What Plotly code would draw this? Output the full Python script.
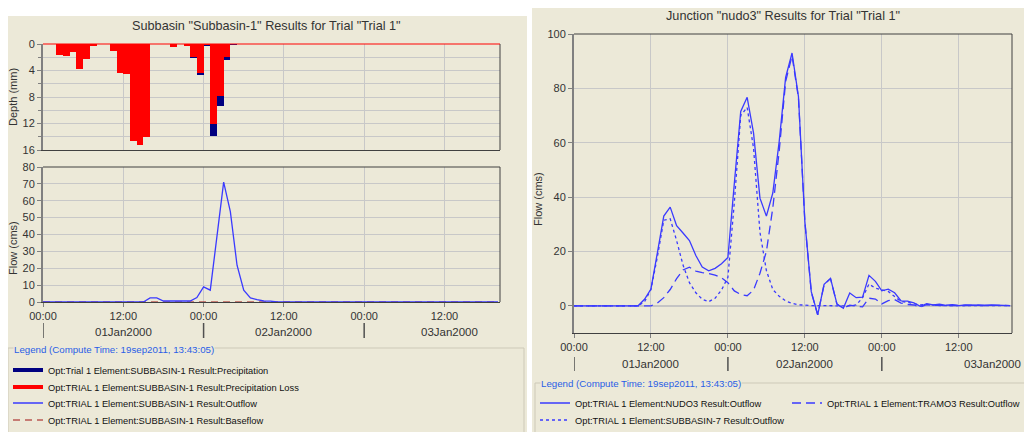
import plotly.graph_objects as go
import pandas as pd

# The page body has an 8px default margin: the figure is laid out in window pixels
# shifted by that offset.
OFF = 8
W, H = 1032 - OFF, 432 - OFF
FONT = "Liberation Sans, Arial, sans-serif"
BEIGE = "#ECE9D8"
GRID = "#c8c8c8"
TXT = "#333333"


def px(x):
    return (x - OFF) / W


def py(y):
    return 1 - (y - OFF) / H


# ---------------- data ----------------
START = pd.Timestamp("2000-01-01 00:00")
hours = list(range(69))
times = [START + pd.Timedelta(hours=h) for h in hours]
x_range = [START, START + pd.Timedelta(hours=68.3)]

# Subbasin-1 hyetograph (hourly intervals starting at these hours)
bar_hours = list(range(2, 29))
precipitation = [1.7, 1.8, 1.2, 3.7, 2.2, 0.3, 0.0, 0.0, 1.0, 4.4, 4.5, 14.7, 15.2, 14.1,
                 0.0, 0.0, 0.0, 0.4, 0.0, 0.3, 2.05, 4.65, 0.25, 13.9, 9.3, 2.35, 0.15]
precip_loss = [1.7, 1.8, 1.2, 3.7, 2.2, 0.3, 0.0, 0.0, 1.0, 4.4, 4.5, 14.7, 15.2, 14.0,
               0.0, 0.0, 0.0, 0.4, 0.0, 0.3, 2.0, 4.4, 0.15, 12.1, 7.8, 1.9, 0.0]

# Subbasin-1 outflow / baseflow (hourly, h0..h68)
sub1_outflow = [
    0, 0, 0, 0, 0, 0, 0, 0, 0, 0, 0, 0,
    0, 0, 0, 0, 2.4, 2.4, 0.6, 0.5, 0.5, 0.5, 0.6, 2.6,
    9.0, 7.0, 40.7, 71.0, 53.6, 21.8, 7.0, 2.4, 1.4, 0.6, 0.5, 0.0,
    0, 0, 0, 0, 0, 0, 0, 0, 0, 0, 0, 0,
    0, 0, 0, 0, 0, 0, 0, 0, 0, 0, 0, 0,
    0, 0, 0, 0, 0, 0, 0, 0, 0,
]
sub1_baseflow = [
    0, 0, 0, 0, 0, 0, 0, 0, 0, 0, 0, 0,
    0, 0, 0, 0, 0, 0, 0, 0, 0, 0, 0, 0,
    0, 0, 0, 0, 0, 0, 0, 0, 0, 0, 0, 0,
    0, 0, 0, 0, 0, 0, 0, 0, 0, 0, 0, 0,
    0, 0, 0, 0, 0, 0, 0, 0, 0, 0, 0, 0,
    0, 0, 0, 0, 0, 0, 0, 0, 0,
]

# Junction nudo3 (hourly, h0..h68)
nudo3_outflow = [
    0, 0, 0, 0, 0, 0, 0, 0, 0, 0, 0, 2.4,
    6.2, 19.5, 33.0, 36.3, 29.5, 26.8, 24.0, 18.5, 14.3, 12.9, 13.8, 15.5,
    17.8, 45.0, 71.5, 76.7, 63.5, 39.6, 33.0, 41.5, 60.5, 84.0, 93.0, 77.0,
    31.0, 5.2, -3.3, 7.9, 10.1, 0.7, -0.9, 4.7, 3.0, 3.2, 11.2, 9.0,
    5.5, 6.1, 4.8, 1.8, 1.7, 1.1, -0.2, 0.8, 0.3, 0.6, 0.2, 0.4,
    0.1, 0.3, 0.2, 0.3, 0.2, 0.3, 0.2, 0.3, 0.1,
]
tramo3_outflow = [
    0, 0, 0, 0, 0, 0, 0, 0, 0, 0, 0, 0,
    0, 1.0, 3.0, 6.0, 10.0, 13.2, 14.2, 12.8, 12.2, 11.9, 11.3, 10.3,
    8.5, 5.5, 4.2, 3.7, 5.8, 12.0, 20.0, 36.0, 57.0, 82.5, 92.0, 76.5,
    31.0, 5.0, -3.3, 7.8, 10.0, 0.6, -0.9, 0.2, 0.0, -0.4, 2.8, 2.5,
    0.7, 1.9, 2.3, 1.0, 0.5, 0.3, -0.4, 0.4, 0.1, 0.3, 0.0, 0.2,
    0.1, 0.2, 0.1, 0.2, 0.1, 0.2, 0.1, 0.2, 0.1,
]
sub7_outflow = [
    0, 0, 0, 0, 0, 0, 0, 0, 0, 0, 0, 1.5,
    6.0, 18.0, 31.5, 32.0, 24.0, 15.0, 8.5, 4.8, 2.4, 1.5, 2.8, 5.8,
    10.5, 38.0, 70.0, 73.0, 58.0, 27.0, 13.0, 6.0, 3.5, 1.8, 0.9, 0.4,
    0.2, 0.1, 0.1, 0.0, 0.0, 0.0, 0.0, 0.0, 0.3, 3.0, 8.0, 6.5,
    5.9, 5.3, 3.4, 1.6, 1.3, 0.8, 0.3, 0.5, 0.2, 0.1, 0.1, 0.1,
    0.1, 0.1, 0.1, 0.1, 0.1, 0.1, 0.1, 0.1, 0.1,
]

day_labels = ["01Jan2000", "02Jan2000", "03Jan2000"]
day_starts_h = [0, 24, 48]
left_label_h = [12.0, 36.0, 60.8]
right_label_h = [12.0, 36.0, 65.3]

left_title = 'Subbasin "Subbasin-1" Results for Trial "Trial 1"'
right_title = 'Junction "nudo3" Results for Trial "Trial 1"'
legend_title = "Legend (Compute Time: 19sep2011, 13:43:05)"

names_left = [
    "Opt:Trial 1 Element:SUBBASIN-1 Result:Precipitation",
    "Opt:TRIAL 1 Element:SUBBASIN-1 Result:Precipitation Loss",
    "Opt:TRIAL 1 Element:SUBBASIN-1 Result:Outflow",
    "Opt:TRIAL 1 Element:SUBBASIN-1 Result:Baseflow",
]
names_right = [
    "Opt:TRIAL 1 Element:NUDO3 Result:Outflow",
    "Opt:TRIAL 1 Element:TRAMO3 Result:Outflow",
    "Opt:TRIAL 1 Element:SUBBASIN-7 Result:Outflow",
]

# ---------------- figure ----------------
bar_x = [START + pd.Timedelta(hours=h) for h in bar_hours]
HOUR_MS = 3600 * 1000
BLUE = "#3a3aff"

fig = go.Figure()

fig.add_trace(go.Bar(x=bar_x, y=precipitation, width=HOUR_MS, offset=0,
                     marker=dict(color="#000080", line=dict(width=0)),
                     xaxis="x", yaxis="y", showlegend=False, name=names_left[0]))
fig.add_trace(go.Bar(x=bar_x, y=precip_loss, width=HOUR_MS, offset=0,
                     marker=dict(color="#ff0000", line=dict(width=0)),
                     xaxis="x", yaxis="y", showlegend=False, name=names_left[1]))
# legend swatches for the bar series (thick lines as in the original legend)
fig.add_trace(go.Scatter(x=[None], y=[None], mode="lines", name=names_left[0],
                         line=dict(color="#000080", width=4), xaxis="x", yaxis="y",
                         legend="legend"))
fig.add_trace(go.Scatter(x=[None], y=[None], mode="lines", name=names_left[1],
                         line=dict(color="#ff0000", width=4), xaxis="x", yaxis="y",
                         legend="legend2"))

fig.add_trace(go.Scatter(x=times, y=sub1_baseflow, mode="lines", name=names_left[3],
                         line=dict(color="#a01010", width=1, dash="7px,5px"),
                         xaxis="x2", yaxis="y2", legend="legend4"))
fig.add_trace(go.Scatter(x=times, y=sub1_outflow, mode="lines", name=names_left[2],
                         line=dict(color=BLUE, width=1.3),
                         xaxis="x2", yaxis="y2", legend="legend3"))

fig.add_trace(go.Scatter(x=times, y=sub7_outflow, mode="lines", name=names_right[2],
                         line=dict(color=BLUE, width=1.3, dash="3px,3px"),
                         xaxis="x3", yaxis="y3", legend="legend6"))
fig.add_trace(go.Scatter(x=times, y=tramo3_outflow, mode="lines", name=names_right[1],
                         line=dict(color=BLUE, width=1.3, dash="9px,5px"),
                         xaxis="x3", yaxis="y3", legend="legend7"))
fig.add_trace(go.Scatter(x=times, y=nudo3_outflow, mode="lines", name=names_right[0],
                         line=dict(color=BLUE, width=1.3),
                         xaxis="x3", yaxis="y3", legend="legend5"))

tick_font = dict(family=FONT, size=11, color=TXT)


def xaxis(domain, anchor, labels):
    return dict(domain=domain, anchor=anchor, type="date", range=x_range,
                tick0=START, dtick=12 * HOUR_MS, tickformat="%H:%M",
                showticklabels=labels, ticks="outside" if labels else "",
                ticklen=4, tickcolor="#808080", tickfont=tick_font,
                showgrid=True, gridcolor=GRID, gridwidth=1,
                showline=True, linecolor="#404040", linewidth=1, mirror=False,
                zeroline=False, fixedrange=True)


def yaxis(domain, anchor, rng, dtick, minor=None, zeroline=False, zcolor=GRID, zwidth=1):
    d = dict(domain=domain, anchor=anchor, range=rng, dtick=dtick,
             ticks="outside", ticklen=4, tickcolor="#808080", tickfont=tick_font,
             showgrid=True, gridcolor=GRID, gridwidth=1,
             showline=True, linecolor="#808080", linewidth=2, mirror=False,
             zeroline=zeroline, zerolinecolor=zcolor, zerolinewidth=zwidth,
             fixedrange=True)
    if minor:
        d["minor"] = minor
    return d


layout = dict(
    width=W, height=H, margin=dict(l=0, r=0, t=0, b=0, autoexpand=False),
    paper_bgcolor="white", plot_bgcolor="white",
    barmode="overlay", bargap=0,
    font=dict(family=FONT, size=11, color=TXT),
    xaxis=xaxis([px(43), px(500)], "y", False),
    yaxis=yaxis([py(150), py(44)], "x", [16, 0], 4,
                minor=dict(dtick=2, showgrid=True, gridcolor=GRID, ticks="outside",
                           ticklen=3, tickcolor="#808080")),
    xaxis2=xaxis([px(43), px(500)], "y2", True),
    yaxis2=yaxis([py(302), py(167)], "x2", [0, 80], 10),
    xaxis3=xaxis([px(574), px(1012)], "y3", True),
    yaxis3=yaxis([py(333), py(34)], "x3", [-10, 100], 20,
                 zeroline=True, zcolor="#c4c4c4", zwidth=2),
)

# legends, one per entry for exact placement
leg_common = dict(xanchor="left", yanchor="middle", bgcolor="rgba(0,0,0,0)",
                  borderwidth=0, itemwidth=30, orientation="v",
                  font=dict(family=FONT, size=9.3, color="#111111"),
                  itemclick=False, itemdoubleclick=False)
legend_pos = {
    "legend": (8, 370), "legend2": (8, 387), "legend3": (8, 403), "legend4": (8, 420),
    "legend5": (535, 403), "legend7": (787, 403), "legend6": (535, 420),
}
for key, (lx, ly) in legend_pos.items():
    layout[key] = dict(leg_common, x=px(lx), y=py(ly))

shapes = [
    # panel backgrounds
    dict(type="rect", xref="paper", yref="paper", x0=0, x1=px(527), y0=0, y1=py(16),
         fillcolor=BEIGE, line=dict(width=0), layer="below"),
    dict(type="rect", xref="paper", yref="paper", x0=px(532), x1=1, y0=0, y1=1,
         fillcolor=BEIGE, line=dict(width=0), layer="below"),
    # legend boxes
    dict(type="rect", xref="paper", yref="paper", x0=px(8), x1=px(524), y0=py(436), y1=py(348),
         fillcolor="rgba(0,0,0,0)", line=dict(color="#cdc9b8", width=1), layer="below"),
    dict(type="rect", xref="paper", yref="paper", x0=px(535), x1=px(1036), y0=py(436), y1=py(383),
         fillcolor="rgba(0,0,0,0)", line=dict(color="#cdc9b8", width=1), layer="below"),
]
# plot frames (right, top borders)
for xa, ya, top_color in [("x", "y", "#ff0000"), ("x2", "y2", "#404040"), ("x3", "y3", "#404040")]:
    shapes.append(dict(type="line", xref=xa + " domain", yref=ya + " domain",
                       x0=1, x1=1, y0=0, y1=1, line=dict(color="#404040", width=1), layer="above"))
    shapes.append(dict(type="line", xref=xa + " domain", yref=ya + " domain",
                       x0=0, x1=1, y0=1, y1=1, line=dict(color=top_color, width=1), layer="above"))
# date separators below the time axis
for h in day_starts_h:
    t = START + pd.Timedelta(hours=h)
    shapes.append(dict(type="line", xref="x2", yref="paper", x0=t, x1=t,
                       y0=py(323), y1=py(338), line=dict(color="#505050", width=1.5)))
    shapes.append(dict(type="line", xref="x3", yref="paper", x0=t, x1=t,
                       y0=py(357), y1=py(371), line=dict(color="#505050", width=1.5)))
layout["shapes"] = shapes


def note(text, xref, x, y, size, color=TXT, xanchor="center", angle=0, bg=None):
    d = dict(text=text, xref=xref, yref="paper", x=x, y=y, xanchor=xanchor,
             yanchor="middle", showarrow=False, textangle=angle,
             font=dict(family=FONT, size=size, color=color))
    if bg:
        d.update(bgcolor=bg, borderpad=0)
    return d


ann = [
    note(left_title, "paper", px(266), py(26), 12.7),
    note(right_title, "paper", px(783), py(16), 12.7),
]
for txt, x, y in [("Depth (mm)", 13, 97), ("Flow (cms)", 13, 248), ("Flow (cms)", 538, 199)]:
    ann.append(note(txt, "paper", px(x), py(y), 11, angle=-90))
for lab, h in zip(day_labels, left_label_h):
    ann.append(note(lab, "x2", START + pd.Timedelta(hours=h), py(332), 11.5))
for lab, h in zip(day_labels, right_label_h):
    ann.append(note(lab, "x3", START + pd.Timedelta(hours=h), py(364), 11.5))
for x, y in [(13, 349), (540, 383)]:
    ann.append(note(legend_title, "paper", px(x), py(y), 9.7, color="#2a5ee6",
                    xanchor="left", bg=BEIGE))
layout["annotations"] = ann

fig.update_layout(**layout)
fig.write_html("out.html")
